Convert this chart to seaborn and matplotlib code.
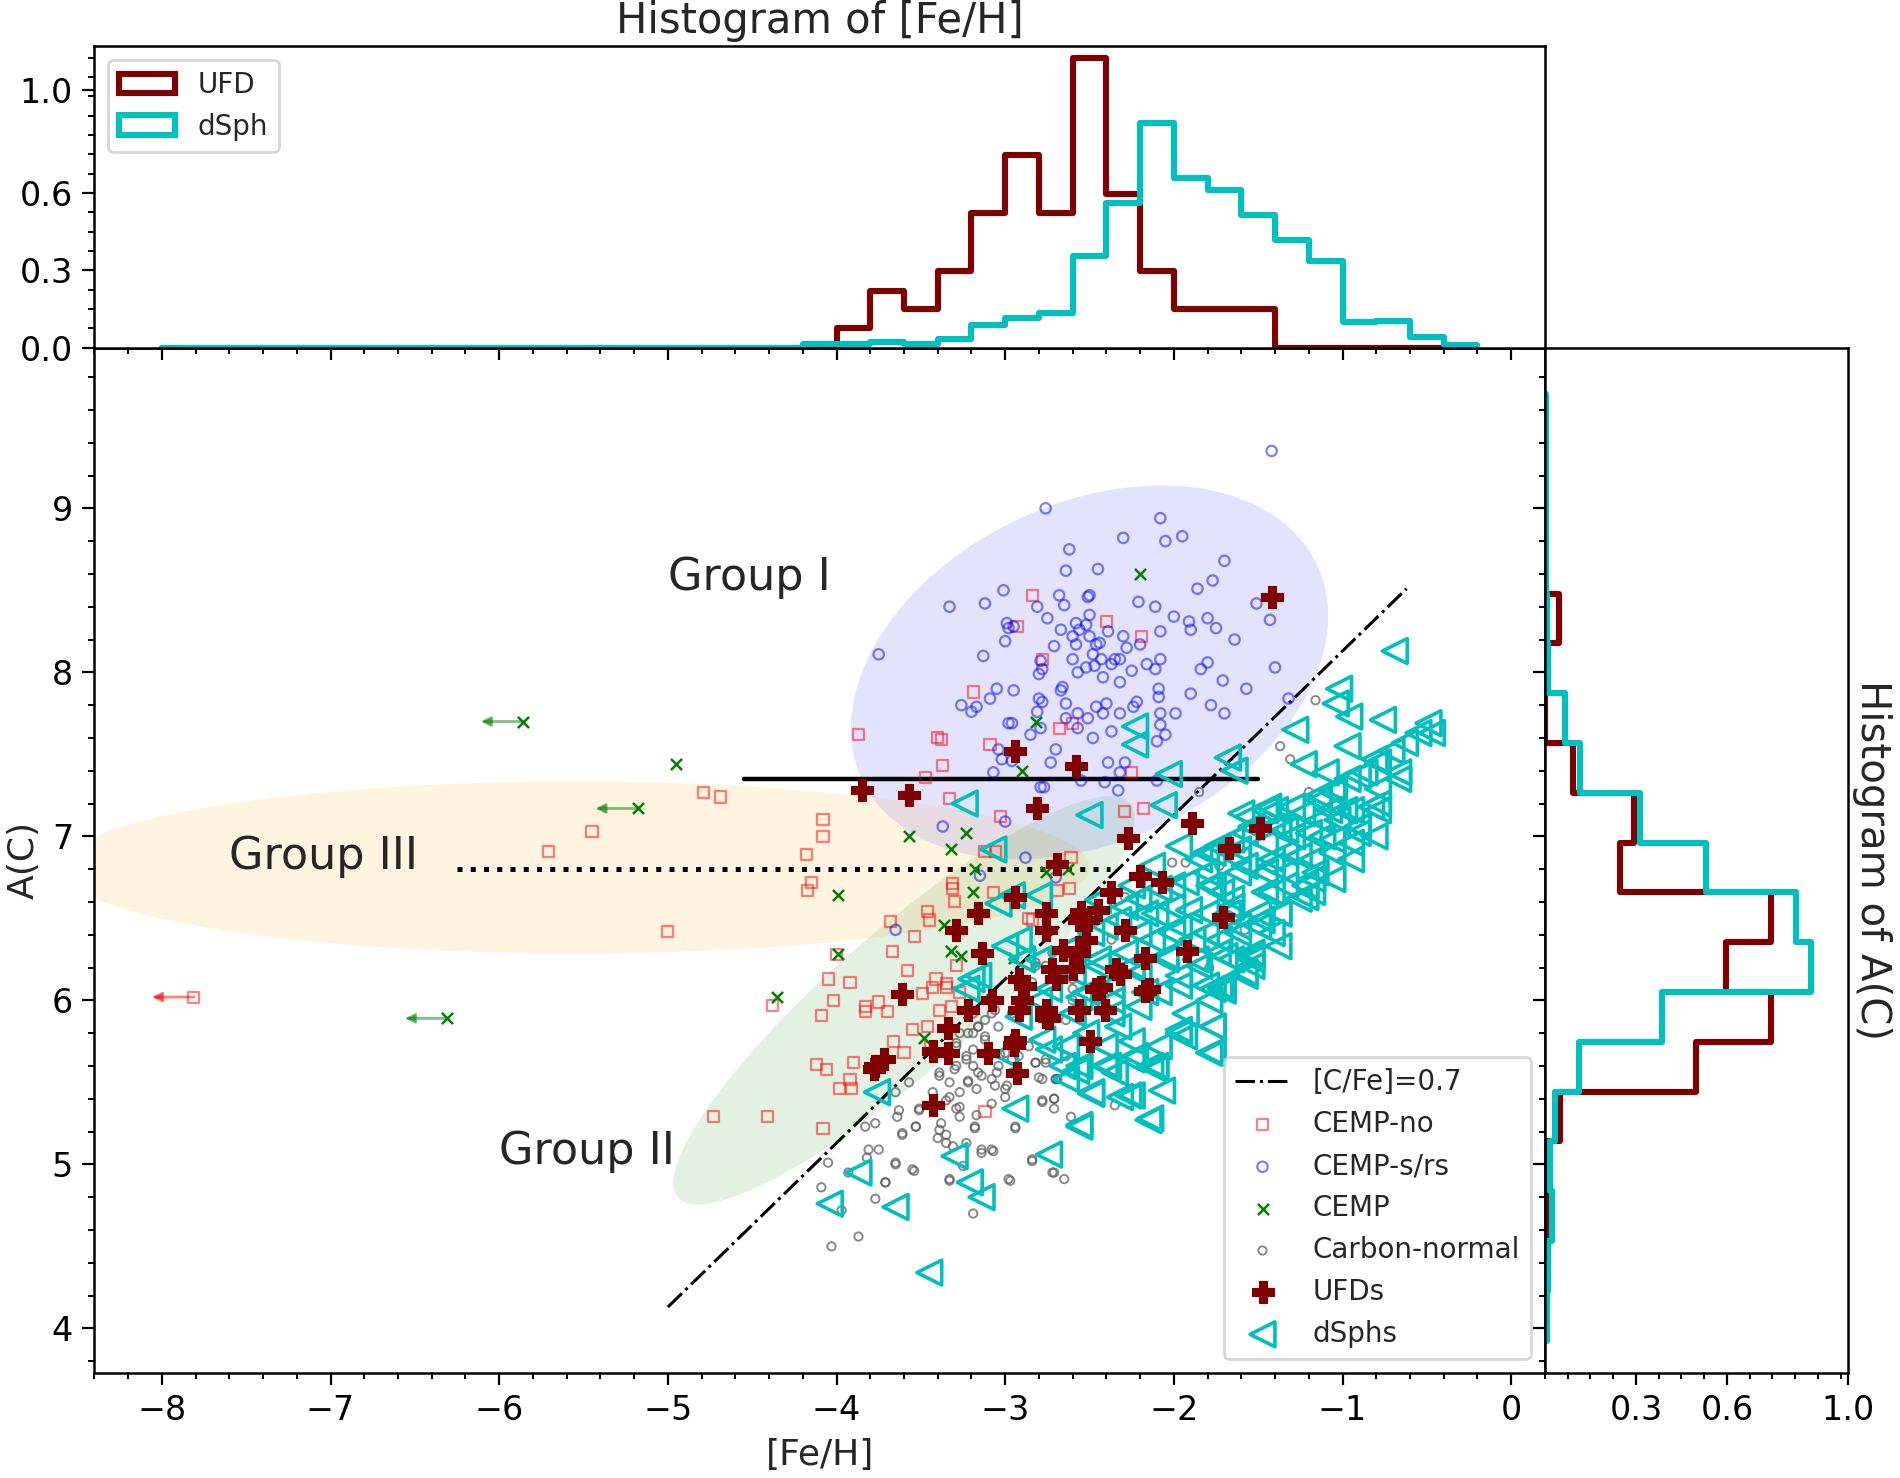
import numpy as np
import pandas as pd
import matplotlib.pyplot as plt
import seaborn as sns
from matplotlib.patches import Ellipse, Patch
from matplotlib.ticker import AutoMinorLocator, MultipleLocator, FormatStrFormatter

# ---------------- data ----------------
# ([Fe/H], A(C)) pairs per class
cemp_no = [(-2.84, 8.47), (-2.93, 8.28), (-2.40, 8.31), (-2.19, 8.22), (-2.78, 8.08), (-3.19, 7.88),
           (-3.87, 7.62), (-3.40, 7.60), (-3.09, 7.56), (-3.37, 7.43), (-3.47, 7.36), (-2.68, 7.66),
           (-2.60, 7.69), (-2.25, 7.39), (-3.33, 7.23), (-3.38, 7.59), (-3.03, 7.12), (-2.29, 7.15),
           (-2.18, 7.17), (-3.12, 6.91), (-3.06, 6.91), (-2.61, 6.87), (-2.69, 6.67), (-2.62, 6.68),
           (-2.86, 6.50), (-3.35, 6.10), (-3.27, 6.05), (-5.45, 7.03), (-5.71, 6.91), (-4.79, 7.27),
           (-4.69, 7.24), (-4.08, 7.10), (-4.08, 7.00), (-4.18, 6.89), (-4.15, 6.72), (-4.17, 6.67),
           (-5.00, 6.42), (-4.00, 6.28), (-4.05, 6.13), (-3.92, 6.11), (-4.02, 6.00), (-4.38, 5.97),
           (-4.09, 5.91), (-3.83, 5.96), (-3.83, 5.93), (-3.75, 5.99), (-3.70, 5.93), (-3.68, 6.48),
           (-3.67, 6.30), (-3.54, 6.39), (-3.58, 6.18), (-3.46, 6.54), (-3.45, 6.49), (-3.31, 6.71),
           (-3.31, 6.68), (-3.30, 6.60), (-3.07, 6.66), (-3.49, 6.04), (-3.43, 6.08), (-3.41, 6.13),
           (-3.35, 6.08), (-3.39, 5.94), (-3.32, 5.96), (-3.29, 6.21), (-3.55, 5.82), (-3.46, 5.84),
           (-3.66, 5.75), (-3.60, 5.68), (-4.12, 5.61), (-4.06, 5.58), (-3.90, 5.62), (-3.92, 5.52),
           (-3.98, 5.46), (-3.91, 5.46), (-3.44, 5.71), (-4.73, 5.29), (-4.41, 5.29), (-4.08, 5.22),
           (-3.12, 5.32), (-2.84, 6.49), (-7.81, 6.02)]
cemp_no_limits = [(-7.81, 6.02)]

cemp_sr = [(-2.76, 9.00), (-2.08, 8.94), (-2.30, 8.82), (-2.05, 8.80), (-1.95, 8.83), (-2.62, 8.75),
           (-2.64, 8.62), (-2.45, 8.63), (-1.70, 8.68), (-1.77, 8.56), (-1.86, 8.51), (-3.01, 8.50),
           (-3.33, 8.40), (-3.12, 8.42), (-2.68, 8.47), (-2.51, 8.46), (-2.50, 8.47), (-2.81, 8.40),
           (-2.65, 8.41), (-2.21, 8.43), (-2.11, 8.40), (-1.51, 8.42), (-2.00, 8.34), (-1.91, 8.31),
           (-1.80, 8.33), (-1.75, 8.27), (-1.43, 8.32), (-2.75, 8.33), (-2.99, 8.30), (-2.98, 8.27),
           (-2.95, 8.28), (-3.00, 8.19), (-2.67, 8.26), (-2.58, 8.30), (-2.52, 8.29), (-2.56, 8.26),
           (-2.50, 8.35), (-2.60, 8.22), (-2.58, 8.17), (-2.50, 8.22), (-2.39, 8.25), (-2.30, 8.22),
           (-2.28, 8.15), (-2.20, 8.17), (-2.08, 8.25), (-1.90, 8.26), (-1.64, 8.20), (-3.75, 8.11),
           (-3.13, 8.10), (-2.71, 8.16), (-2.46, 8.17), (-2.44, 8.18), (-2.48, 8.11), (-2.43, 8.08),
           (-2.60, 8.08), (-2.79, 8.07), (-2.78, 8.02), (-2.80, 7.99), (-2.52, 8.03), (-2.47, 8.04),
           (-2.37, 8.05), (-2.35, 8.08), (-2.32, 8.08), (-2.25, 8.01), (-2.16, 8.05), (-2.11, 8.02),
           (-2.08, 8.08), (-2.42, 7.97), (-2.57, 8.00), (-2.32, 7.94), (-1.84, 8.02), (-1.80, 8.06),
           (-1.71, 7.95), (-1.40, 8.03), (-1.57, 7.90), (-1.90, 7.87), (-2.09, 7.90), (-2.09, 7.85),
           (-2.66, 7.91), (-2.67, 7.89), (-3.05, 7.90), (-2.95, 7.89), (-3.09, 7.84), (-3.17, 7.79),
           (-3.20, 7.76), (-3.26, 7.80), (-2.80, 7.84), (-2.78, 7.82), (-2.64, 7.81), (-2.46, 7.79),
           (-2.40, 7.81), (-2.24, 7.79), (-2.22, 7.82), (-2.57, 7.75), (-2.51, 7.72), (-2.42, 7.75),
           (-2.32, 7.75), (-2.08, 7.75), (-1.99, 7.75), (-1.78, 7.80), (-1.70, 7.75), (-1.32, 7.84),
           (-2.81, 7.76), (-2.98, 7.69), (-2.96, 7.69), (-2.79, 7.66), (-2.64, 7.72), (-2.57, 7.66),
           (-2.08, 7.68), (-2.05, 7.62), (-2.10, 7.58), (-2.37, 7.64), (-2.48, 7.60), (-2.85, 7.62),
           (-2.70, 7.53), (-3.04, 7.53), (-3.02, 7.47), (-2.96, 7.46), (-2.73, 7.45), (-3.07, 7.39),
           (-2.39, 7.45), (-2.29, 7.45), (-2.32, 7.39), (-2.55, 7.34), (-2.41, 7.33), (-2.33, 7.28),
           (-2.79, 7.30), (-2.77, 7.30), (-2.10, 7.34), (-1.42, 9.35), (-3.00, 7.09), (-3.37, 7.06),
           (-2.88, 6.87), (-3.15, 6.76), (-2.70, 6.75), (-3.65, 6.43)]

cemp = [(-2.20, 8.60), (-2.82, 7.70), (-2.90, 7.40), (-4.95, 7.44), (-3.57, 7.00), (-3.23, 7.02),
        (-3.32, 6.92), (-3.18, 6.80), (-3.19, 6.66), (-2.76, 6.78), (-2.63, 6.80), (-3.36, 6.46),
        (-3.32, 6.30), (-3.26, 6.27), (-2.95, 6.26), (-3.99, 6.64), (-3.99, 6.28), (-4.35, 6.02),
        (-3.48, 5.77), (-5.86, 7.70), (-5.18, 7.17), (-6.31, 5.89)]
cemp_limits = [(-5.86, 7.70), (-5.18, 7.17), (-6.31, 5.89)]

carbon_normal = [(-3.39, 5.54), (-3.23, 5.64), (-3.19, 5.70), (-3.30, 5.58), (-3.22, 5.50), (-3.14, 5.54),
                 (-3.06, 5.48), (-3.00, 5.41), (-2.80, 5.53), (-2.71, 5.34), (-2.78, 5.38), (-3.57, 5.50),
                 (-3.65, 5.44), (-3.64, 5.29), (-3.51, 5.34), (-3.53, 5.23), (-3.61, 5.18), (-3.77, 5.25),
                 (-3.83, 5.23), (-3.38, 5.25), (-3.35, 5.18), (-3.40, 5.16), (-3.31, 5.11), (-3.23, 5.13),
                 (-3.29, 5.34), (-3.27, 5.29), (-3.17, 5.30), (-3.18, 5.22), (-3.14, 5.07), (-3.07, 5.08),
                 (-2.94, 5.22), (-3.81, 5.09), (-3.75, 5.09), (-3.82, 5.04), (-4.05, 5.01), (-3.93, 4.95),
                 (-3.65, 5.00), (-3.54, 4.96), (-3.71, 4.89), (-4.09, 4.86), (-3.77, 4.79), (-3.97, 4.72),
                 (-3.33, 4.90), (-3.25, 4.99), (-3.19, 4.70), (-2.97, 4.90), (-2.84, 5.02), (-2.71, 4.95),
                 (-3.87, 4.56), (-4.03, 4.50), (-3.19, 5.60), (-3.16, 5.84), (-3.12, 5.78), (-3.08, 5.92),
                 (-3.12, 5.88), (-3.22, 5.80), (-3.03, 5.67), (-2.82, 6.21), (-2.82, 5.62), (-2.76, 5.64),
                 (-2.70, 5.52), (-3.29, 5.74), (-2.96, 5.64), (-3.05, 5.56), (-2.99, 5.48), (-3.27, 5.44),
                 (-3.33, 5.41), (-3.17, 5.46), (-2.65, 4.91), (-2.61, 5.29), (-2.71, 5.40), (-2.35, 5.36),
                 (-2.69, 5.52), (-1.16, 7.83), (-1.37, 7.55), (-1.31, 7.47), (-1.20, 7.27), (-1.85, 7.27),
                 (-1.73, 6.82), (-1.58, 6.43), (-1.79, 6.20), (-2.82, 6.23), (-2.70, 6.13), (-2.60, 6.07),
                 (-2.37, 6.37), (-2.29, 6.63), (-2.01, 6.84), (-1.93, 6.84),
                 (-3.22, 5.51), (-3.29, 5.60), (-3.33, 5.50), (-3.35, 5.39), (-3.27, 5.35), (-3.23, 5.66),
                 (-3.29, 5.72), (-3.19, 5.80), (-3.16, 5.84), (-3.12, 5.76), (-3.10, 5.66), (-3.16, 5.56),
                 (-3.08, 5.52), (-3.04, 5.60), (-3.00, 5.68), (-2.96, 5.56), (-2.92, 5.66), (-2.86, 5.72),
                 (-2.82, 5.62), (-2.76, 5.62), (-2.70, 5.52), (-3.04, 5.84), (-3.06, 5.94), (-2.96, 5.92),
                 (-2.88, 6.00), (-2.84, 6.11), (-2.76, 6.21), (-2.72, 6.29), (-2.60, 6.13), (-2.60, 6.00),
                 (-2.64, 5.88), (-3.27, 5.80), (-3.19, 5.92), (-3.39, 5.56), (-3.43, 5.44), (-3.51, 5.33),
                 (-3.63, 5.33), (-3.53, 5.23), (-3.39, 5.21), (-3.35, 5.13), (-3.18, 5.23), (-3.08, 5.37),
                 (-3.00, 5.46), (-2.94, 5.23), (-2.78, 5.39), (-2.71, 5.40), (-2.78, 5.52), (-3.14, 5.09),
                 (-3.08, 5.09), (-2.84, 5.03), (-2.72, 4.95), (-3.65, 5.01), (-3.55, 4.97), (-3.71, 4.89),
                 (-3.33, 4.91), (-2.98, 4.91), (-3.61, 5.19), (-2.64, 5.66)]

ufds = [(-1.42, 8.46), (-2.94, 7.52), (-2.58, 7.43), (-3.85, 7.28), (-3.57, 7.25), (-2.81, 7.17),
        (-2.27, 6.99), (-1.89, 7.08), (-1.49, 7.05), (-1.67, 6.93), (-2.69, 6.83), (-2.94, 6.63),
        (-3.29, 6.43), (-2.07, 6.72), (-2.20, 6.76), (-1.71, 6.51), (-1.92, 6.30), (-2.17, 6.26),
        (-2.34, 6.19), (-2.51, 6.49), (-2.45, 6.55), (-2.43, 6.08), (-2.17, 6.06), (-3.61, 6.04),
        (-3.77, 5.60), (-3.43, 5.69), (-3.43, 5.36), (-2.50, 5.75), (-2.70, 6.13), (-2.37, 6.66),
        (-3.16, 6.53), (-2.76, 6.53), (-2.56, 6.49), (-2.29, 6.43), (-2.52, 6.37), (-2.66, 6.31),
        (-2.56, 6.29), (-3.14, 6.29), (-2.32, 6.16), (-2.15, 6.07), (-2.46, 6.07), (-2.60, 6.19),
        (-2.92, 6.13), (-2.72, 6.19), (-2.90, 6.00), (-2.76, 6.43), (-2.88, 6.09), (-3.08, 6.00),
        (-2.92, 5.94), (-2.76, 5.94), (-3.22, 5.94), (-3.34, 5.83), (-2.94, 5.76), (-3.10, 5.68),
        (-3.34, 5.68), (-3.72, 5.64), (-3.78, 5.58), (-2.93, 5.56), (-2.76, 5.90), (-2.95, 5.73),
        (-2.74, 5.89), (-2.56, 5.94), (-2.41, 5.94), (-2.55, 6.54)]

dsphs = [(-1.02, 7.90), (-1.04, 7.81), (-0.96, 7.73), (-0.76, 7.71), (-2.23, 7.67), (-2.23, 7.56),
         (-1.28, 7.65), (-0.97, 7.55), (-0.49, 7.69), (-0.55, 7.63), (-0.63, 7.57), (-0.71, 7.52),
         (-1.23, 7.44), (-1.68, 7.48), (-1.64, 7.40), (-2.03, 7.38), (-3.24, 7.20), (-2.50, 7.13),
         (-2.06, 7.19), (-3.07, 6.92), (-2.96, 6.64), (-2.80, 6.64), (-0.87, 7.39), (-0.97, 7.35),
         (-0.79, 7.29), (-1.06, 7.27), (-0.67, 7.35), (-0.83, 7.18), (-1.08, 7.16), (-1.24, 7.14),
         (-1.40, 7.16), (-1.56, 7.12), (-0.91, 7.06), (-1.34, 7.04), (-1.12, 7.00), (-0.95, 6.96),
         (-1.46, 6.96), (-1.62, 6.92), (-1.97, 6.94), (-1.81, 6.90), (-1.26, 6.88), (-1.42, 6.82),
         (-1.18, 6.74), (-1.22, 6.63), (-1.62, 6.78), (-1.81, 6.78), (-2.13, 6.82), (-2.25, 6.70),
         (-2.01, 6.70), (-1.72, 6.66), (-1.42, 6.66), (-1.50, 6.53), (-1.38, 6.53), (-1.68, 6.53),
         (-1.91, 6.55), (-2.11, 6.53), (-2.29, 6.57), (-2.45, 6.61), (-1.42, 6.41), (-1.62, 6.41),
         (-1.81, 6.41), (-2.01, 6.41), (-2.21, 6.41), (-2.41, 6.45), (-1.54, 6.27), (-1.70, 6.27),
         (-1.87, 6.25), (-2.05, 6.27), (-2.25, 6.21), (-2.45, 6.25), (-2.60, 6.33), (-1.58, 6.15),
         (-1.77, 6.07), (-1.97, 6.09), (-2.17, 6.05), (-2.37, 6.00), (-2.56, 6.02), (-2.74, 6.07),
         (-2.90, 6.25), (-3.00, 6.33), (-3.16, 6.15), (-3.23, 6.07), (-2.80, 6.00), (-1.10, 7.39),
         (-0.79, 7.45), (-0.69, 8.13), (-0.47, 7.63), (-0.81, 7.47), (-0.67, 7.39), (-0.91, 7.37),
         (-0.79, 7.20), (-0.95, 7.16), (-1.14, 7.22), (-0.91, 7.02), (-1.03, 7.10), (-1.44, 7.18),
         (-1.38, 7.06), (-1.20, 7.02), (-1.06, 6.90), (-1.16, 6.78), (-1.18, 6.66), (-1.34, 6.70),
         (-1.46, 6.78), (-1.62, 6.86), (-1.77, 6.90), (-1.48, 6.49), (-1.66, 6.57), (-1.79, 6.70),
         (-1.54, 6.29), (-1.66, 6.25), (-1.73, 6.37), (-1.73, 6.09), (-1.79, 6.00), (-1.77, 5.84),
         (-1.34, 6.90), (-1.54, 7.06), (-1.66, 6.98), (-3.04, 6.59), (-3.20, 6.13), (-2.92, 6.37),
         (-2.80, 6.25), (-2.92, 5.90), (-2.78, 5.76), (-3.30, 5.05), (-3.21, 4.89), (-3.14, 4.80),
         (-2.94, 5.34), (-2.74, 5.06), (-3.87, 4.95), (-4.04, 4.76), (-3.65, 4.74), (-3.45, 4.34),
         (-3.76, 5.44), (-2.56, 5.23), (-2.25, 5.42), (-2.49, 5.43), (-2.14, 5.28), (-2.11, 5.58),
         (-2.35, 5.56), (-2.58, 5.57), (-2.66, 5.60), (-1.77, 5.68), (-1.71, 6.06), (-1.54, 6.21),
         (-1.97, 5.82), (-2.23, 5.66), (-2.74, 5.70), (-3.00, 5.67), (-2.64, 5.52), (-2.39, 5.60),
         (-2.25, 5.75), (-2.14, 5.60), (-1.94, 5.78), (-2.07, 5.45), (-2.32, 5.41),
         (-1.60, 7.14), (-1.46, 7.16), (-1.30, 7.18), (-1.14, 7.25), (-1.05, 7.29), (-0.79, 7.16),
         (-0.91, 7.06), (-0.81, 7.00), (-1.06, 6.98), (-1.18, 6.86), (-1.22, 6.70), (-1.38, 6.53),
         (-1.50, 6.45), (-1.54, 6.25), (-1.72, 6.07), (-1.77, 5.84), (-1.79, 5.68), (-1.93, 5.92),
         (-1.97, 5.80), (-2.11, 5.60), (-2.25, 5.64), (-2.41, 5.60), (-2.56, 5.60), (-2.49, 5.44),
         (-2.27, 5.42), (-2.15, 5.27), (-2.56, 5.24), (-2.33, 5.84), (-2.52, 5.80), (-1.74, 6.29),
         (-1.85, 6.21), (-1.97, 6.15), (-2.09, 6.05), (-2.21, 5.96), (-2.37, 5.92), (-1.93, 6.72),
         (-2.09, 6.68), (-2.21, 6.62), (-1.85, 6.86), (-1.74, 6.94), (-1.58, 7.02), (-1.42, 7.06),
         (-1.58, 6.82), (-1.42, 6.86), (-1.30, 7.00), (-1.66, 6.62), (-1.81, 6.53), (-1.97, 6.45),
         (-2.13, 6.37), (-2.29, 6.29), (-2.45, 6.21), (-1.46, 6.66), (-1.34, 6.78), (-1.89, 6.37),
         (-2.05, 6.25), (-2.21, 6.17), (-2.37, 6.09), (-2.52, 6.05), (-2.49, 6.41), (-2.33, 6.49),
         (-2.17, 6.53), (-2.01, 6.57), (-1.77, 6.70), (-1.62, 6.45), (-0.95, 6.86), (-1.06, 6.74),
         (-1.14, 7.10), (-0.99, 7.16), (-1.26, 6.62), (-1.38, 6.33), (-1.58, 6.17), (-1.81, 6.09),
         (-2.60, 5.92), (-2.64, 5.72), (-2.41, 5.72), (-2.09, 5.72), (-2.60, 6.17), (-2.60, 6.33)]

# histogram of [Fe/H], 0.2 dex bins starting at -8 (heights)
ufd_feh_hist = [0] * 20 + [0.076, 0.221, 0.148, 0.297, 0.523, 0.746, 0.523, 1.122, 0.596, 0.297,
                           0.148, 0.148, 0.148, 0, 0, 0, 0, 0]
dsph_feh_hist = [0] * 19 + [0.013, 0.013, 0.021, 0.013, 0.034, 0.087, 0.113, 0.133, 0.355, 0.56,
                            0.872, 0.658, 0.613, 0.514, 0.417, 0.336, 0.098, 0.104, 0.043, 0.009]

# histogram of A(C), 19 bins from 3.925 to 9.695
ufd_ac_hist = [0, 0, 0.006, 0, 0.05, 0.497, 0.746, 0.596, 0.746, 0.247, 0.294, 0.094, 0, 0, 0.048,
               0, 0, 0, 0]
dsph_ac_hist = [0.006, 0.011, 0.025, 0.017, 0.033, 0.111, 0.385, 0.876, 0.829, 0.532, 0.313, 0.116,
                0.067, 0.009, 0.006, 0.004, 0.004, 0.004, 0.004]

feh_edges_ufd = np.arange(-8.0, -0.39, 0.2)
feh_edges_dsph = np.arange(-8.0, -0.19, 0.2)
ac_edges = np.linspace(3.925, 9.695, 20)

UFD_COL = '#800000'
DSPH_COL = '#00bfbf'

# ---------------- style ----------------
sns.set_style("ticks")
plt.rcParams['font.family'] = ['DejaVu Sans']
plt.rcParams.update({
    'xtick.direction': 'out', 'ytick.direction': 'out',
    'xtick.major.size': 4.2, 'ytick.major.size': 4.2,
    'xtick.minor.size': 2.2, 'ytick.minor.size': 2.2,
    'xtick.major.width': 0.8, 'ytick.major.width': 0.8,
    'xtick.minor.width': 0.7, 'ytick.minor.width': 0.7,
    'xtick.labelsize': 12, 'ytick.labelsize': 12,
    'axes.linewidth': 0.9, 'axes.edgecolor': 'black',
    'xtick.color': 'black', 'ytick.color': 'black',
})

fig = plt.figure(figsize=(9.5, 7.39), dpi=200)
ax = fig.add_axes([0.0497, 0.0713, 0.7634, 0.6935])
ax_top = fig.add_axes([0.0497, 0.7648, 0.7634, 0.2041], sharex=ax)
ax_right = fig.add_axes([0.8131, 0.0713, 0.1597, 0.6935], sharey=ax)

# ---------------- main panel ----------------
ax.add_patch(Ellipse((-2.5, 8.0), 3.0, 2.05, angle=27, color='blue', alpha=0.11, lw=0, zorder=0))
ax.add_patch(Ellipse((-5.55, 6.81), 6.1, 1.05, angle=0, color='orange', alpha=0.12, lw=0, zorder=0))
ax.add_patch(Ellipse((-3.6, 6.0), 3.6, 0.85, angle=42, color='green', alpha=0.11, lw=0, zorder=0))

feh_line = np.array([-5.0, -0.62])
line_cfe, = ax.plot(feh_line, feh_line + 8.43 + 0.7, color='black', ls='-.', lw=1.1,
                    label='[C/Fe]=0.7', zorder=3)
ax.plot([-4.55, -1.5], [7.35, 7.35], color='black', lw=1.6, zorder=3)
ax.plot([-6.25, -2.38], [6.8, 6.8], color='black', ls=':', lw=1.8, zorder=3)


def to_frame(pairs):
    return pd.DataFrame(pairs, columns=['feh', 'ac'])


sns.scatterplot(data=to_frame(cemp_no), x='feh', y='ac', marker='s', s=16, color='red',
                facecolors='none', edgecolor='red', alpha=0.5, linewidth=0.8, ax=ax, zorder=4)
h_no = ax.collections[-1]
sns.scatterplot(data=to_frame(cemp_sr), x='feh', y='ac', marker='o', s=14, color='blue',
                facecolors='none', edgecolor='blue', alpha=0.5, linewidth=0.8, ax=ax, zorder=4)
h_sr = ax.collections[-1]
sns.scatterplot(data=to_frame(cemp), x='feh', y='ac', marker='x', s=16, color='green',
                linewidth=0.9, ax=ax, zorder=4)
h_cemp = ax.collections[-1]
sns.scatterplot(data=to_frame(carbon_normal), x='feh', y='ac', marker='o', s=9, color='0.35',
                facecolors='none', edgecolor='0.35', alpha=0.7, linewidth=0.7, ax=ax, zorder=4)
h_cn = ax.collections[-1]
sns.scatterplot(data=to_frame(dsphs), x='feh', y='ac', marker='<', s=80, color=DSPH_COL,
                facecolors='none', edgecolor=DSPH_COL, linewidth=1.3, ax=ax, zorder=5)
h_dsph = ax.collections[-1]
sns.scatterplot(data=to_frame(ufds), x='feh', y='ac', marker='P', s=60, color=UFD_COL,
                edgecolor=UFD_COL, linewidth=0.4, ax=ax, zorder=6)
h_ufd = ax.collections[-1]

# upper limits on [Fe/H]
for limits, col in [(cemp_no_limits, 'red'), (cemp_limits, 'green')]:
    for fx, fy in limits:
        ax.annotate('', xy=(fx - 0.25, fy), xytext=(fx, fy),
                    arrowprops=dict(arrowstyle='-|>', color=col, alpha=0.5, lw=1.0,
                                    mutation_scale=7, shrinkA=0, shrinkB=0))

ax.text(-5.0, 8.5, 'Group I', fontsize=16, ha='left', va='baseline')
ax.text(-7.6, 6.8, 'Group III', fontsize=16, ha='left', va='baseline')
ax.text(-6.0, 5.0, 'Group II', fontsize=16, ha='left', va='baseline')

ax.set_xticks(np.arange(-8, 1, 1))
ax.set_yticks(np.arange(4, 10, 1))
ax.xaxis.set_minor_locator(AutoMinorLocator(5))
ax.yaxis.set_minor_locator(AutoMinorLocator(5))
ax.set_xlabel('[Fe/H]', fontsize=13)
ax.set_ylabel('A(C)', fontsize=13)

ax.legend(handles=[line_cfe, h_no, h_sr, h_cemp, h_cn, h_ufd, h_dsph],
          labels=['[C/Fe]=0.7', 'CEMP-no', 'CEMP-s/rs', 'CEMP', 'Carbon-normal', 'UFDs', 'dSphs'],
          loc='lower right', fontsize=10, frameon=True)

# ---------------- top histogram ----------------
top_ufd = pd.DataFrame({'feh': (feh_edges_ufd[:-1] + feh_edges_ufd[1:]) / 2, 'w': ufd_feh_hist})
top_dsph = pd.DataFrame({'feh': (feh_edges_dsph[:-1] + feh_edges_dsph[1:]) / 2, 'w': dsph_feh_hist})
sns.histplot(data=top_ufd, x='feh', weights='w', bins=list(feh_edges_ufd), element='step',
             fill=False, color=UFD_COL, linewidth=2.2, ax=ax_top)
sns.histplot(data=top_dsph, x='feh', weights='w', bins=list(feh_edges_dsph), element='step',
             fill=False, color=DSPH_COL, linewidth=2.2, ax=ax_top)
ax_top.set_ylim(0, 1.17)
ax_top.set_yticks([0.0, 0.3, 0.6, 1.0])
ax_top.yaxis.set_minor_locator(MultipleLocator(0.075))
ax_top.yaxis.set_major_formatter(FormatStrFormatter('%.1f'))
ax_top.tick_params(axis='x', labelbottom=False)
ax_top.set_xlabel('')
ax_top.set_ylabel('')
ax_top.set_title('Histogram of [Fe/H]', fontsize=15, pad=4.8)
ax_top.legend(handles=[Patch(facecolor='none', edgecolor=UFD_COL, lw=2.2, label='UFD'),
                       Patch(facecolor='none', edgecolor=DSPH_COL, lw=2.2, label='dSph')],
              loc='upper left', fontsize=10)

# ---------------- right histogram ----------------
ac_centers = (ac_edges[:-1] + ac_edges[1:]) / 2
right_ufd = pd.DataFrame({'ac': ac_centers, 'w': ufd_ac_hist})
right_dsph = pd.DataFrame({'ac': ac_centers, 'w': dsph_ac_hist})
sns.histplot(data=right_ufd, y='ac', weights='w', bins=list(ac_edges), element='step',
             fill=False, color=UFD_COL, linewidth=2.2, ax=ax_right)
sns.histplot(data=right_dsph, y='ac', weights='w', bins=list(ac_edges), element='step',
             fill=False, color=DSPH_COL, linewidth=2.2, ax=ax_right)
ax_right.set_xlim(0, 1.0)
ax_right.set_xticks([0.3, 0.6, 1.0])
ax_right.xaxis.set_minor_locator(MultipleLocator(0.075))
ax_right.xaxis.set_major_formatter(FormatStrFormatter('%.1f'))
ax_right.tick_params(axis='y', labelleft=False)
ax_right.set_xlabel('')
ax_right.set_ylabel('')
ax_right.text(1.012, 0.5, 'Histogram of A(C)', rotation=270, fontsize=14.5,
              transform=ax_right.transAxes, ha='left', va='center')

ax.set_xlim(-8.4, 0.2)
ax.set_ylim(3.73, 9.98)

fig.savefig('out.png', dpi=200)
